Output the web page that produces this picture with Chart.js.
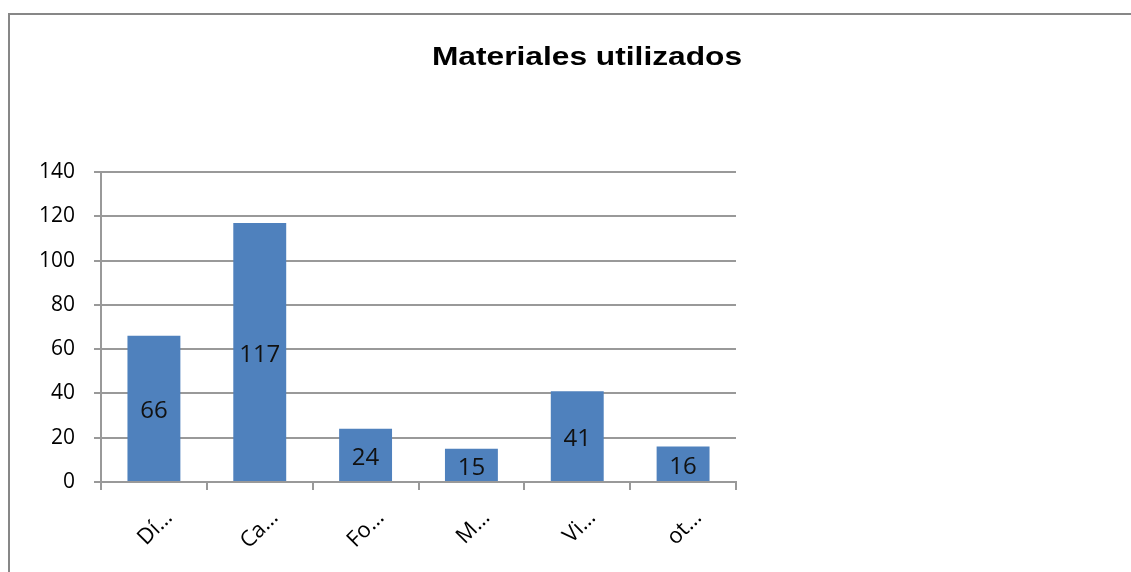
<!DOCTYPE html>
<html>
<head>
<meta charset="utf-8">
<title>Materiales utilizados</title>
<script src="https://cdn.jsdelivr.net/npm/chart.js@4.4.1/dist/chart.umd.min.js"></script>
<style>
    body { margin: 0; background: #fff; overflow: hidden; }
    canvas { display: block; }
</style>
</head>
<body>
<canvas id="myChart" width="1131" height="572"></canvas>
<script>
const categories = ['Dí…', 'Ca…', 'Fo…', 'M…', 'Vi…', 'ot…'];
const values = [66, 117, 24, 15, 41, 16];
const yTicks = [0, 20, 40, 60, 80, 100, 120, 140];
const chartTitle = 'Materiales utilizados';

const gridColor = '#999999';
const tickFont = { family: 'Open Sans', size: 21 };

// grey frame round the chart area (only top and left are visible in the picture)
const framePlugin = {
    id: 'frame',
    beforeDraw(chart) {
        const ctx = chart.ctx;
        ctx.save();
        ctx.fillStyle = '#fff';
        ctx.fillRect(0, 0, chart.width, chart.height);
        ctx.strokeStyle = '#878787';
        ctx.lineWidth = 2;
        ctx.beginPath();
        ctx.moveTo(9, chart.height);
        ctx.lineTo(9, 14);
        ctx.lineTo(chart.width, 14);
        ctx.stroke();
        ctx.restore();
    }
};

// title is drawn by hand, it sits off-centre and is a bit wide
const titlePlugin = {
    id: 'wideTitle',
    afterDraw(chart) {
        const ctx = chart.ctx;
        ctx.save();
        ctx.font = 'bold 26px "Liberation Sans", Arial, sans-serif';
        ctx.fillStyle = '#000';
        ctx.textAlign = 'center';
        ctx.textBaseline = 'alphabetic';
        ctx.translate(587, 65);
        ctx.scale(1.22, 1);
        ctx.fillText(chartTitle, 0, 0);
        ctx.restore();
    }
};

// value in the middle of every bar
const barLabels = {
    id: 'barLabels',
    afterDatasetsDraw(chart) {
        const ctx = chart.ctx;
        const meta = chart.getDatasetMeta(0);
        ctx.save();
        ctx.font = '24px "Open Sans", sans-serif';
        ctx.fillStyle = '#111';
        ctx.textAlign = 'center';
        ctx.textBaseline = 'middle';
        meta.data.forEach((bar, i) => {
            const mid = (bar.y + bar.base) / 2;
            ctx.fillText(String(values[i]), bar.x, mid + 3);
        });
        ctx.restore();
    }
};

const ctx = document.getElementById('myChart');

const config = {
    type: 'bar',
    data: {
        labels: categories,
        datasets: [{
            label: chartTitle,
            data: values,
            backgroundColor: '#4f81bd',
            borderWidth: 0,
            barPercentage: 0.5,
            categoryPercentage: 1
        }]
    },
    options: {
        responsive: false,
        animation: false,
        layout: {
            padding: { top: 172, right: 395, bottom: 0, left: 0 }
        },
        plugins: {
            legend: { display: false },
            title: { display: false },
            tooltip: { enabled: false }
        },
        scales: {
            x: {
                grid: {
                    offset: true,
                    drawOnChartArea: false,
                    drawTicks: true,
                    tickLength: 8,
                    lineWidth: 2,
                    color: gridColor
                },
                border: { color: gridColor, width: 2 },
                ticks: {
                    color: '#000',
                    font: { family: 'Open Sans', size: 22 },
                    autoSkip: false,
                    minRotation: 45,
                    maxRotation: 45,
                    labelOffset: 15,
                    padding: 15
                },
                afterFit(scale) {
                    scale.height = 90;
                }
            },
            y: {
                min: 0,
                max: 140,
                grid: {
                    color: gridColor,
                    lineWidth: 2,
                    tickLength: 7
                },
                border: { color: gridColor, width: 2 },
                ticks: {
                    color: '#000',
                    font: tickFont,
                    padding: 19,
                    stepSize: 20
                },
                afterBuildTicks(scale) {
                    scale.ticks = yTicks.map(v => ({ value: v }));
                },
                afterFit(scale) {
                    scale.width = 101;
                }
            }
        }
    },
    plugins: [framePlugin, titlePlugin, barLabels]
};

new Chart(ctx, config);
</script>
</body>
</html>
